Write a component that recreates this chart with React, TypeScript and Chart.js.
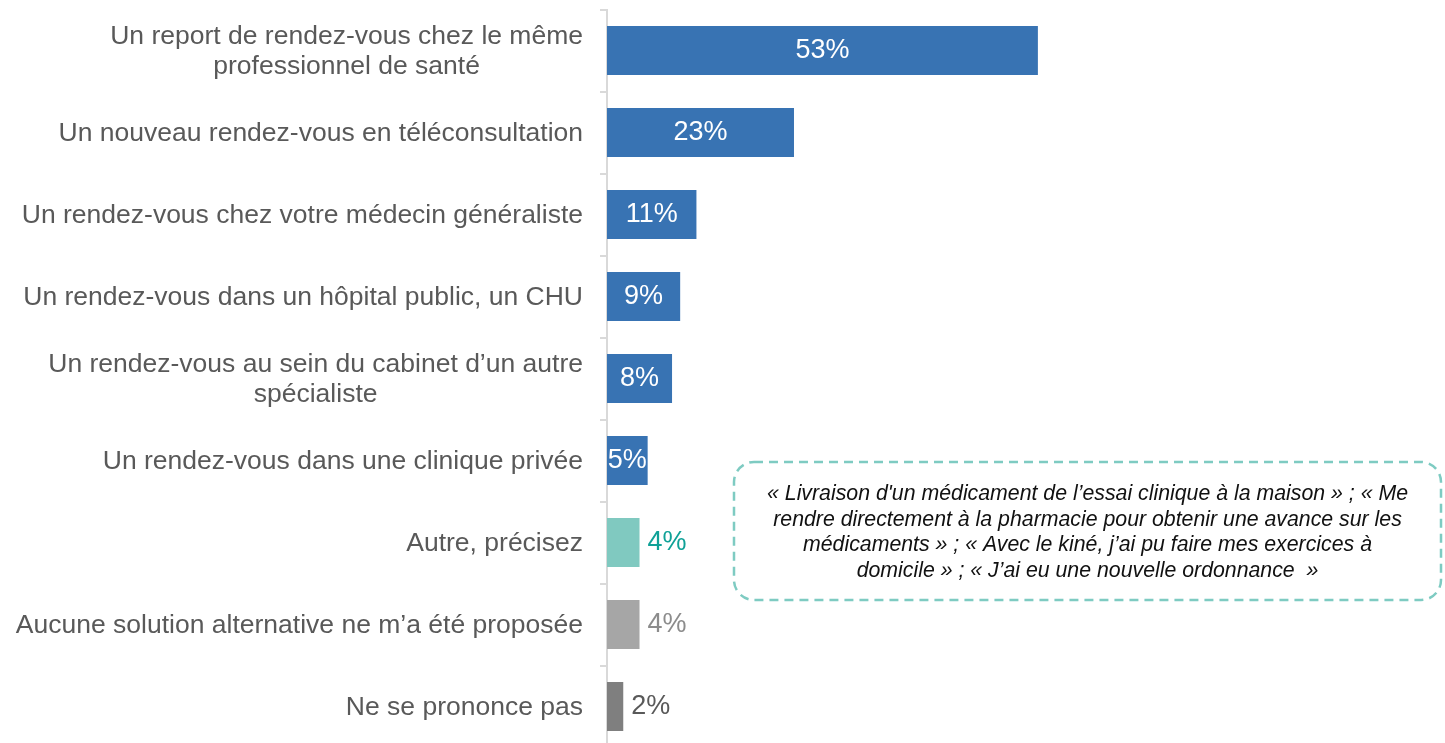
import React, { useEffect, useRef } from "react";
import { Chart, registerables } from "chart.js";

Chart.register(...registerables);

const categories: string[][] = [
  ["Un report de rendez-vous chez le même", "professionnel de santé"],
  ["Un nouveau rendez-vous en téléconsultation"],
  ["Un rendez-vous chez votre médecin généraliste"],
  ["Un rendez-vous dans un hôpital public, un CHU"],
  ["Un rendez-vous au sein du cabinet d’un autre", "spécialiste"],
  ["Un rendez-vous dans une clinique privée"],
  ["Autre, précisez"],
  ["Aucune solution alternative ne m’a été proposée"],
  ["Ne se prononce pas"],
];

const values: number[] = [53, 23, 11, 9, 8, 5, 4, 4, 2];

const valueLabels: string[] = ["53%", "23%", "11%", "9%", "8%", "5%", "4%", "4%", "2%"];

const barColors: string[] = [
  "#3873b3", "#3873b3", "#3873b3", "#3873b3", "#3873b3", "#3873b3",
  "#80c9c0", "#a6a6a6", "#7f7f7f",
];

const labelColors: string[] = [
  "#ffffff", "#ffffff", "#ffffff", "#ffffff", "#ffffff", "#ffffff",
  "#0fa197", "#8c8c8c", "#595959",
];

const labelInside: boolean[] = [true, true, true, true, true, true, false, false, false];

const noteLines: string[] = [
  "« Livraison d'un médicament de l’essai clinique à la maison » ; « Me",
  "rendre directement à la pharmacie pour obtenir une avance sur les",
  "médicaments » ; « Avec le kiné, j’ai pu faire mes exercices à",
  "domicile » ; « J’ai eu une nouvelle ordonnance  »",
];

const FONT = '"Liberation Sans", Arial, sans-serif';
const LABEL_SIZE = 26.5;
const LABEL_LINE = 30;
const VALUE_SIZE = 27;
const NOTE_SIZE = 21.3;

const CANVAS_W = 1445;
const CANVAS_H = 760;

const drawPlugin = {
  id: "customText",
  afterDatasetsDraw(chart: any) {
    const ctx = chart.ctx;
    const yScale = chart.scales.y;
    // category labels
    ctx.save();
    ctx.font = `${LABEL_SIZE}px ${FONT}`;
    ctx.fillStyle = "#595959";
    ctx.textAlign = "center";
    ctx.textBaseline = "middle";
    categories.forEach((lines, i) => {
      const y = yScale.getPixelForValue(i);
      const w = Math.max(...lines.map((l) => ctx.measureText(l).width));
      const cx = yScale.right - 24 - w / 2;
      lines.forEach((l, j) => {
        ctx.fillText(l, cx, y + 1 + (j - (lines.length - 1) / 2) * LABEL_LINE);
      });
    });
    ctx.restore();

    // value labels
    const meta = chart.getDatasetMeta(0);
    ctx.save();
    ctx.font = `${VALUE_SIZE}px ${FONT}`;
    ctx.textBaseline = "middle";
    meta.data.forEach((bar: any, i: number) => {
      const p = bar.getProps(["x", "y", "base"], true);
      ctx.fillStyle = labelColors[i];
      if (labelInside[i]) {
        ctx.textAlign = "center";
        ctx.fillText(valueLabels[i], (p.x + p.base) / 2, p.y);
      } else {
        ctx.textAlign = "left";
        ctx.fillText(valueLabels[i], p.x + 8, p.y);
      }
    });
    ctx.restore();

    // note box
    const bx = 734, by = 462, bw = 707, bh = 138;
    ctx.save();
    ctx.strokeStyle = "#7ecbc2";
    ctx.lineWidth = 2.5;
    ctx.setLineDash([9, 6]);
    ctx.beginPath();
    (ctx as any).roundRect(bx, by, bw, bh, 20);
    ctx.stroke();
    ctx.setLineDash([]);
    ctx.font = `italic ${NOTE_SIZE}px ${FONT}`;
    ctx.fillStyle = "#111111";
    ctx.textAlign = "center";
    ctx.textBaseline = "middle";
    noteLines.forEach((l, j) => {
      ctx.fillText(l, bx + bw / 2, 494 + j * 25.7);
    });
    ctx.restore();
  },
};

export default function App() {
  const ref = useRef<HTMLCanvasElement>(null);
  useEffect(() => {
    if (!ref.current) return;
    const chart = new Chart(ref.current, {
      type: "bar",
      data: {
        labels: categories.map((c) => c.join(" ")),
        datasets: [
          {
            data: values,
            backgroundColor: barColors,
            borderWidth: 0,
            barPercentage: 0.6,
            categoryPercentage: 1,
          },
        ],
      },
      options: {
        indexAxis: "y",
        responsive: false,
        animation: false,
        layout: { padding: { left: 0, right: 25, top: 9.5, bottom: CANVAS_H - 747.5 } },
        plugins: { legend: { display: false }, tooltip: { enabled: false } },
        scales: {
          x: { display: false, min: 0, max: 100 },
          y: {
            offset: true,
            grid: {
              display: true,
              drawOnChartArea: false,
              drawTicks: true,
              tickLength: 7,
              color: "#d9d9d9",
              lineWidth: 2,
              offset: true,
            },
            border: { display: true, color: "#d9d9d9", width: 2 },
            ticks: { display: false },
            afterFit: (s: any) => {
              s.width = 607;
            },
          },
        },
      },
      plugins: [drawPlugin],
    } as any);
    return () => chart.destroy();
  }, []);
  return (
    <div
      style={{
        position: "fixed",
        left: 0,
        top: 0,
        width: CANVAS_W,
        height: 743,
        overflow: "hidden",
        background: "#fff",
      }}
    >
      <canvas
        ref={ref}
        width={CANVAS_W}
        height={CANVAS_H}
        style={{ display: "block", width: CANVAS_W, height: CANVAS_H }}
      />
    </div>
  );
}
